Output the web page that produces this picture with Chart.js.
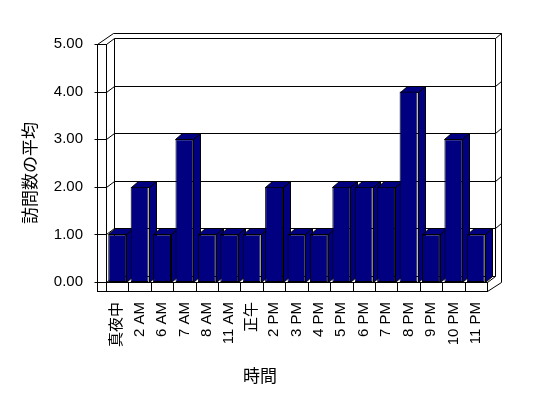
<!DOCTYPE html>
<html>
<head>
<meta charset="utf-8">
<script src="https://cdn.jsdelivr.net/npm/chart.js@4.4.1/dist/chart.umd.min.js"></script>
<style>
    body { margin: 0; background: #fff; }
    canvas { display: block; }
</style>
</head>
<body>
<canvas id="visitChart" width="548" height="398"></canvas>
<script>
const hours = ["真夜中", "2 AM", "6 AM", "7 AM", "8 AM", "11 AM", "正午", "2 PM", "3 PM", "4 PM",
    "5 PM", "6 PM", "7 PM", "8 PM", "9 PM", "10 PM", "11 PM"];
const avgVisits = [1, 2, 1, 3, 1, 1, 1, 2, 1, 1, 2, 2, 2, 4, 1, 3, 1];
const yTicks = [0, 1, 2, 3, 4, 5];

const xTitle = "時間";
const yTitle = "訪問数の平均";
const fontFamily = "'Liberation Sans', 'Noto Sans CJK JP', sans-serif";

function poly(ctx, pts) {
    ctx.beginPath();
    ctx.moveTo(pts[0][0], pts[0][1]);
    for (let i = 1; i < pts.length; i++) ctx.lineTo(pts[i][0], pts[i][1]);
    ctx.closePath();
    ctx.fill();
    ctx.stroke();
}

function line(ctx, x1, y1, x2, y2) {
    ctx.beginPath();
    ctx.moveTo(x1, y1);
    ctx.lineTo(x2, y2);
    ctx.stroke();
}

// draws the 3D walls, floor and bar tops/sides (front faces come from Chart.js)
const boxPlugin = {
    id: "box3d",
    beforeDatasetsDraw(chart) {
        const ctx = chart.ctx;
        const xs = chart.scales.x;
        const ys = chart.scales.y;
        const L = chart.chartArea.left;
        const R = chart.chartArea.right;
        const T = ys.getPixelForValue(yTicks[yTicks.length - 1]);
        const B = ys.getPixelForValue(0);
        const fl = L - 9;

        ctx.save();
        ctx.translate(0.5, 0.5);
        ctx.lineWidth = 1;
        ctx.strokeStyle = "#000";
        ctx.fillStyle = "#fff";

        // back wall (with thickness)
        line(ctx, fl, T, L + 7, T - 11);
        line(ctx, L + 7, T - 11, R + 14, T - 11);
        line(ctx, R + 14, T - 11, R + 14, B);
        line(ctx, L + 8, T - 6, R + 8, T - 6);
        line(ctx, R + 8, T - 6, R + 8, B - 6);
        line(ctx, R + 8, T - 6, R + 14, T - 11);
        line(ctx, L + 8, T - 6, L + 8, B - 6);
        line(ctx, L, T, L + 8, T - 6);

        yTicks.forEach(v => {
            const y = Math.round(ys.getPixelForValue(v));
            line(ctx, fl - 3, y, fl, y);
            if (v > 0 && v < yTicks[yTicks.length - 1]) {
                line(ctx, fl, y, L, y);
                line(ctx, L, y, L + 8, y - 6);
                line(ctx, L + 8, y - 6, R + 8, y - 6);
                line(ctx, R + 8, y - 6, R + 14, y - 11);
            }
        });

        // left wall front face
        ctx.strokeRect(fl, T, L - fl, B + 9 - T);

        // floor
        line(ctx, L, B, L + 8, B - 6);
        line(ctx, L + 8, B - 6, R + 8, B - 6);
        line(ctx, R, B, R + 8, B - 6);
        line(ctx, R, B + 9, R + 14, B);
        ctx.strokeRect(fl, B, R - fl, 9);
        const step = (R - L) / hours.length;
        for (let i = 1; i < hours.length; i++) {
            const x = Math.round(xs.getPixelForValue(i) - step / 2);
            line(ctx, x, B, x, B + 9);
        }

        // bar sides and tops
        ctx.fillStyle = "#000080";
        chart.getDatasetMeta(0).data.forEach(bar => {
            const x1 = Math.round(bar.x - bar.width / 2);
            const x2 = Math.round(bar.x + bar.width / 2);
            const y = Math.round(bar.y);
            const base = Math.round(bar.base);
            poly(ctx, [[x2, y], [x2 + 7, y - 6], [x2 + 7, base - 6], [x2, base]]);
            poly(ctx, [[x1, y], [x1 + 7, y - 6], [x2 + 7, y - 6], [x2, y]]);
        });
        ctx.restore();
    },
    afterDraw(chart) {
        const ctx = chart.ctx;
        ctx.save();
        ctx.fillStyle = "#000";
        ctx.font = "17px 'Noto Sans CJK JP', sans-serif";
        ctx.textAlign = "center";
        ctx.textBaseline = "middle";
        ctx.fillText(xTitle, 260, 376);
        ctx.translate(30, 173);
        ctx.rotate(-Math.PI / 2);
        ctx.fillText(yTitle, 0, 0);
        ctx.restore();
    }
};

const ctx = document.getElementById("visitChart").getContext("2d");

new Chart(ctx, {
    type: "bar",
    data: {
        labels: hours,
        datasets: [{
            data: avgVisits,
            backgroundColor: "#000080",
            borderColor: "#000",
            borderWidth: 1,
            borderSkipped: false,
            categoryPercentage: 1,
            barPercentage: 0.8
        }]
    },
    options: {
        responsive: false,
        animation: false,
        events: [],
        layout: {
            padding: { left: 0, right: 61, top: 44, bottom: 0 }
        },
        plugins: {
            legend: { display: false },
            tooltip: { enabled: false }
        },
        scales: {
            x: {
                grid: { display: false, drawTicks: false },
                border: { display: false },
                ticks: {
                    color: "#000",
                    font: { family: fontFamily, size: 15 },
                    minRotation: 90,
                    maxRotation: 90,
                    autoSkip: false,
                    padding: 20
                },
                afterFit(scale) { scale.height = 116; }
            },
            y: {
                min: 0,
                max: 5,
                grid: { display: false, drawTicks: false },
                border: { display: false },
                ticks: {
                    color: "#000",
                    stepSize: 1,
                    padding: 23,
                    font: { family: fontFamily, size: 15 },
                    callback: v => v.toFixed(2)
                },
                afterFit(scale) { scale.width = 106; }
            }
        }
    },
    plugins: [boxPlugin]
});
</script>
</body>
</html>
